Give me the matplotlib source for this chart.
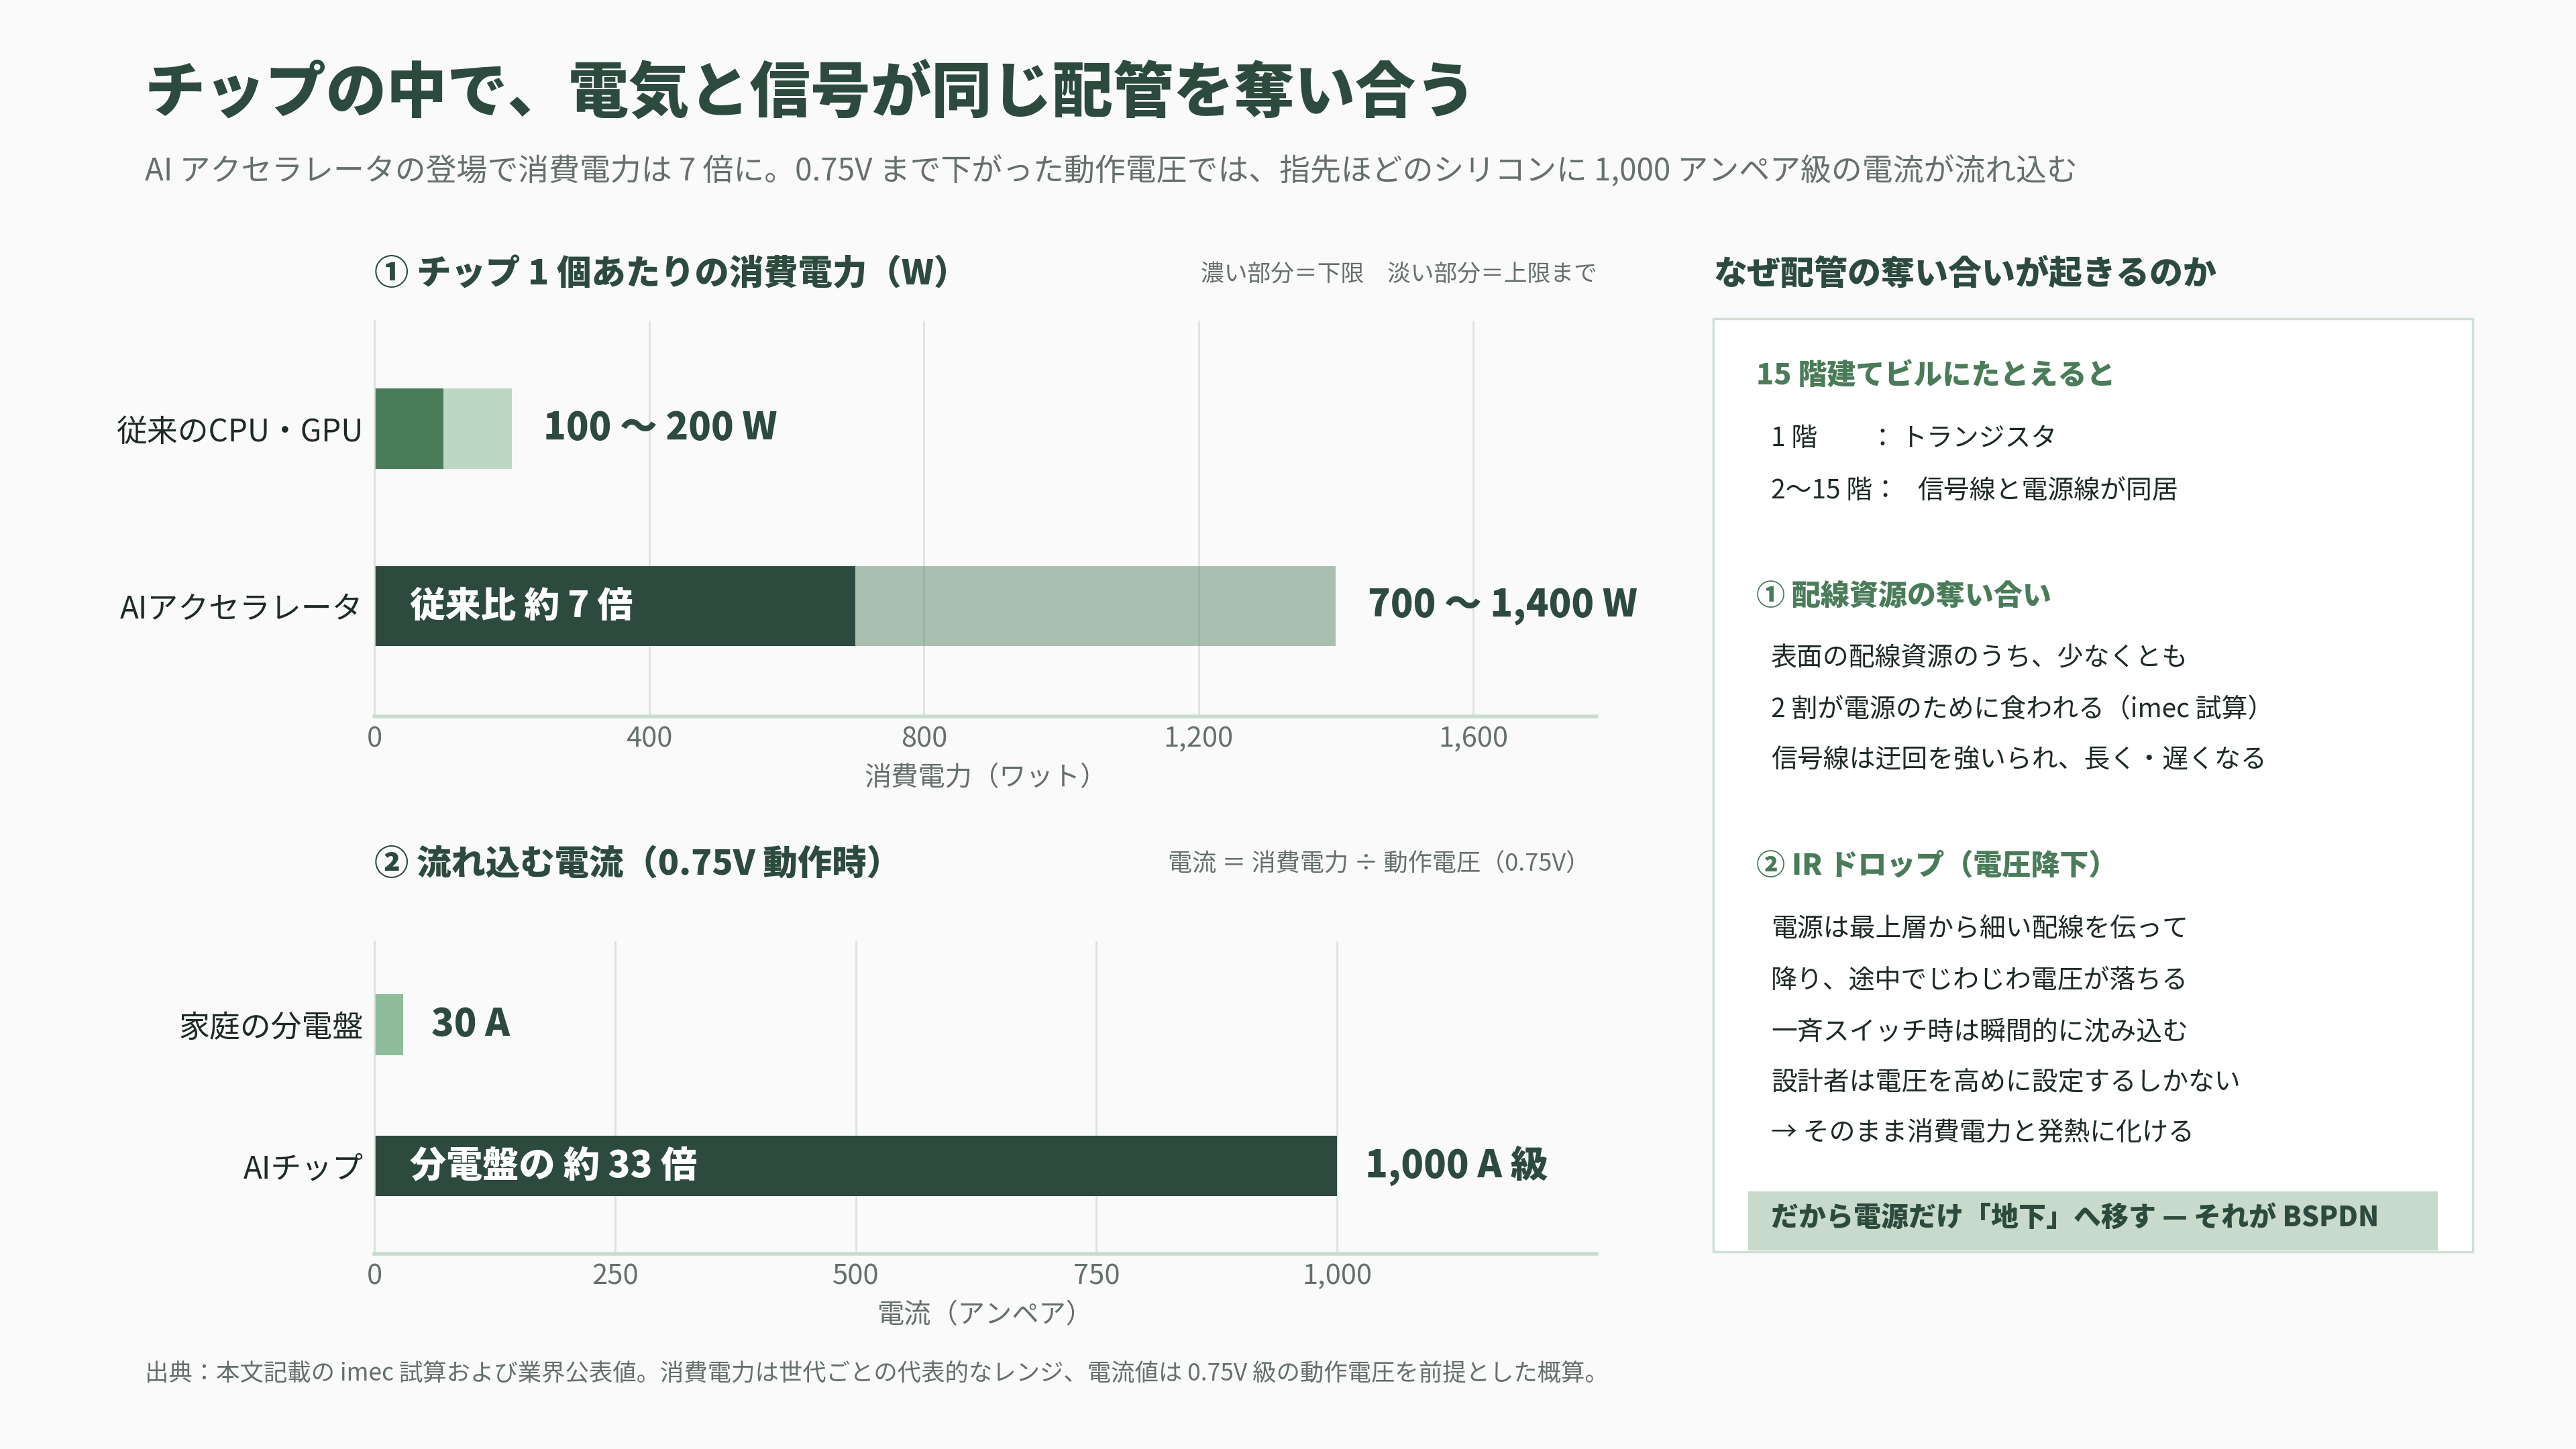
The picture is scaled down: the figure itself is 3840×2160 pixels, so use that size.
import matplotlib.pyplot as plt
from matplotlib.patches import Rectangle

plt.rcParams['font.family'] = ['Noto Sans CJK JP', 'DejaVu Sans']

# ---- data ----
power_labels = ["従来のCPU・GPU", "AIアクセラレータ"]
power_low = [100, 700]
power_high = [200, 1400]
power_text = ["100 ～ 200 W", "700 ～ 1,400 W"]
power_ticks = [0, 400, 800, 1200, 1600]

current_labels = ["家庭の分電盤", "AIチップ"]
current_values = [30, 1000]
current_text = ["30 A", "1,000 A 級"]
current_ticks = [0, 250, 500, 750, 1000]

# ---- colours ----
BG = "#fafafa"
DARK = "#2d4a3e"
MID = "#4a7c59"
PALE = "#bdd7c5"
HOME = "#8fbc9a"
GRAY = "#66706b"
GRID = "#d6e4da"
AXLINE = "#c8dccf"
INK = "#1e2a25"
HEAVY = 900

W, H = 1568, 882  # layout measured on a 1568x882 view


def fx(x):
    return x / W


def fy(y):
    return 1 - y / H


fig = plt.figure(figsize=(38.4, 21.6), dpi=100, facecolor=BG)

# title + subtitle
fig.text(fx(88), fy(57), "チップの中で、電気と信号が同じ配管を奪い合う",
         fontsize=65, fontweight=HEAVY, color=DARK, va="center")
fig.text(fx(88), fy(104),
         "AI アクセラレータの登場で消費電力は 7 倍に。0.75V まで下がった動作電圧では、"
         "指先ほどのシリコンに 1,000 アンペア級の電流が流れ込む",
         fontsize=33, color=GRAY, va="center")


def style_axis(ax, ticks, xmax, xlabel):
    ax.set_facecolor(BG)
    ax.set_xlim(0, xmax)
    ax.set_xticks(ticks)
    ax.set_xticklabels([f"{t:,}" for t in ticks])
    ax.tick_params(axis="x", length=0, pad=10, labelsize=30, labelcolor=GRAY)
    ax.tick_params(axis="y", length=0, pad=12, labelsize=33, labelcolor=INK)
    ax.grid(axis="x", color=GRID, linewidth=1.8)
    ax.set_axisbelow(True)
    for s in ["top", "right"]:
        ax.spines[s].set_visible(False)
    ax.spines["left"].set_color(GRID)
    ax.spines["left"].set_linewidth(1.8)
    ax.spines["bottom"].set_color(AXLINE)
    ax.spines["bottom"].set_linewidth(4)
    ax.set_xlabel(xlabel, fontsize=29, color=GRAY, labelpad=12)


# ---- panel 1: power ----
ax1 = fig.add_axes([fx(228), fy(436), fx(972) - fx(228), fy(195) - fy(436)])
ypos = [1, 0]
light_cols = [PALE, MID]
light_alpha = [1.0, 0.46]
dark_cols = [MID, DARK]
for i in range(2):
    ax1.barh(ypos[i], power_high[i], height=0.45, color=light_cols[i],
             alpha=light_alpha[i], linewidth=0)
    ax1.barh(ypos[i], power_low[i], height=0.45, color=dark_cols[i], linewidth=0)
    ax1.annotate(power_text[i], xy=(power_high[i], ypos[i]), xytext=(34, 0),
                 textcoords="offset points", va="center", ha="left",
                 fontsize=40, fontweight=HEAVY, color=DARK)
ax1.annotate("従来比 約 7 倍", xy=(0, 0), xytext=(38, 0), textcoords="offset points",
             va="center", ha="left", fontsize=38, fontweight=HEAVY, color="white")
ax1.set_ylim(-0.62, 1.61)
ax1.set_yticks(ypos)
ax1.set_yticklabels(power_labels)
style_axis(ax1, power_ticks, 1780, "消費電力（ワット）")

fig.text(fx(228), fy(167), "① チップ 1 個あたりの消費電力（W）",
         fontsize=37, fontweight=HEAVY, color=DARK, va="center")
fig.text(fx(972), fy(167), "濃い部分＝下限　淡い部分＝上限まで",
         fontsize=25, color=GRAY, va="center", ha="right")

# ---- panel 2: current ----
ax2 = fig.add_axes([fx(228), fy(763), fx(972) - fx(228), fy(573) - fy(763)])
cur_cols = [HOME, DARK]
for i in range(2):
    ax2.barh(ypos[i], current_values[i], height=0.43, color=cur_cols[i], linewidth=0)
    ax2.annotate(current_text[i], xy=(current_values[i], ypos[i]), xytext=(30, 0),
                 textcoords="offset points", va="center", ha="left",
                 fontsize=40, fontweight=HEAVY, color=DARK)
ax2.annotate("分電盤の 約 33 倍", xy=(0, 0), xytext=(38, 0), textcoords="offset points",
             va="center", ha="left", fontsize=39, fontweight=HEAVY, color="white")
ax2.set_ylim(-0.62, 1.59)
ax2.set_yticks(ypos)
ax2.set_yticklabels(current_labels)
style_axis(ax2, current_ticks, 1270, "電流（アンペア）")

fig.text(fx(228), fy(526), "② 流れ込む電流（0.75V 動作時）",
         fontsize=37, fontweight=HEAVY, color=DARK, va="center")
fig.text(fx(968), fy(526), "電流 ＝ 消費電力 ÷ 動作電圧（0.75V）",
         fontsize=26, color=GRAY, va="center", ha="right")

# footer
fig.text(fx(88), fy(836),
         "出典：本文記載の imec 試算および業界公表値。消費電力は世代ごとの代表的なレンジ、"
         "電流値は 0.75V 級の動作電圧を前提とした概算。",
         fontsize=25.5, color=GRAY, va="center")

# ---- right panel ----
fig.text(fx(1043), fy(167), "なぜ配管の奪い合いが起きるのか",
         fontsize=36, fontweight=HEAVY, color=DARK, va="center")
fig.add_artist(Rectangle((fx(1043), fy(762)), fx(1505) - fx(1043), fy(194) - fy(762),
                         transform=fig.transFigure, facecolor="white",
                         edgecolor="#cfe0d5", linewidth=2.5))
fig.add_artist(Rectangle((fx(1064), fy(761)), fx(1484) - fx(1064), fy(725) - fy(761),
                         transform=fig.transFigure, facecolor="#c8dacb",
                         edgecolor="none"))


def head(y, s):
    fig.text(fx(1069), fy(y), s, fontsize=31, fontweight=HEAVY, color=MID, va="center")


def body(x, y, s):
    fig.text(fx(x), fy(y), s, fontsize=28, color=INK, va="center")


head(229, "15 階建てビルにたとえると")
body(1078, 267, "1 階")
body(1138, 267, "：")
body(1157, 267, "トランジスタ")
body(1078, 299, "2〜15 階：")
body(1167, 299, "信号線と電源線が同居")

head(363, "① 配線資源の奪い合い")
for y, s in zip([401, 432, 463],
                ["表面の配線資源のうち、少なくとも",
                 "2 割が電源のために食われる（imec 試算）",
                 "信号線は迂回を強いられ、長く・遅くなる"]):
    body(1078, y, s)

head(527, "② IR ドロップ（電圧降下）")
for y, s in zip([566, 597, 628, 659, 690],
                ["電源は最上層から細い配線を伝って",
                 "降り、途中でじわじわ電圧が落ちる",
                 "一斉スイッチ時は瞬間的に沈み込む",
                 "設計者は電圧を高めに設定するしかない",
                 "→ そのまま消費電力と発熱に化ける"]):
    body(1078, y, s)

fig.text(fx(1078), fy(742), "だから電源だけ「地下」へ移す — それが BSPDN",
         fontsize=29.5, fontweight=HEAVY, color=DARK, va="center")

fig.savefig("out.png", dpi=100, facecolor=BG)
